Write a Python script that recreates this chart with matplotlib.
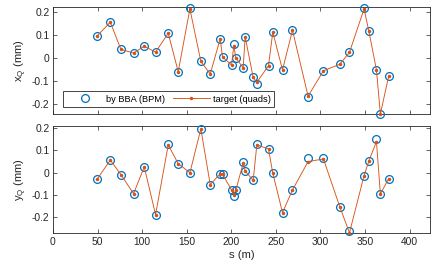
import numpy as np
import matplotlib
matplotlib.use("Agg")
import matplotlib.pyplot as plt

# quad positions along the ring (m)
s = [49.7, 64.3, 76.2, 90.4, 102.4, 115.1, 129.3, 140.5, 153.6, 165.9, 176.4,
     187.6, 190.2, 200.3, 202.9, 205.2, 213.4, 215.6, 224.6, 228.7, 241.8,
     246.6, 257.5, 268.7, 286.2, 303.4, 321.7, 332.6, 349.0, 354.3, 362.9,
     367.3, 376.7]

# horizontal offsets (mm)
xq_bba = [0.098, 0.157, 0.039, 0.023, 0.053, 0.027, 0.109, -0.061, 0.217, -0.013,
          -0.068, 0.085, 0.006, -0.029, 0.062, 0.001, -0.041, 0.094, -0.083,
          -0.110, -0.032, 0.114, -0.050, 0.122, -0.167, -0.054, -0.026, 0.026,
          0.217, 0.120, -0.050, -0.240, -0.076]
xq_target = [0.098, 0.157, 0.039, 0.023, 0.053, 0.027, 0.109, -0.058, 0.215, -0.013,
             -0.068, 0.085, 0.006, -0.029, 0.055, 0.001, -0.041, 0.094, -0.083,
             -0.104, -0.032, 0.114, -0.050, 0.122, -0.164, -0.054, -0.026, 0.026,
             0.215, 0.120, -0.050, -0.242, -0.076]

# vertical offsets (mm)
yq_bba = [-0.028, 0.057, -0.008, -0.094, 0.026, -0.188, 0.129, 0.041, 0.000, 0.197,
          -0.053, -0.005, -0.007, -0.077, -0.103, -0.077, 0.050, 0.008, -0.034,
          0.129, 0.107, -0.002, -0.179, -0.077, 0.065, 0.068, -0.152, -0.263,
          -0.013, 0.052, 0.152, -0.095, -0.026]
yq_target = [-0.028, 0.057, -0.008, -0.094, 0.026, -0.188, 0.125, 0.041, 0.000, 0.197,
             -0.053, -0.005, -0.007, -0.077, -0.098, -0.077, 0.043, 0.008, -0.034,
             0.125, 0.107, -0.002, -0.179, -0.077, 0.050, 0.062, -0.152, -0.270,
             -0.013, 0.052, 0.140, -0.095, -0.026]

blue = "#0072BD"
orange = "#D95319"
axcol = "#262626"
fs_tick = 7.4
fs_label = 8.1
fs_leg = 6.7

plt.rcParams["font.family"] = ["Liberation Sans", "DejaVu Sans"]
plt.rcParams["font.size"] = fs_tick

fig = plt.figure(figsize=(4.43, 2.66), dpi=100)
ax1 = fig.add_axes([0.1196, 0.5714, 0.8511, 0.4012])
ax2 = fig.add_axes([0.1196, 0.1230, 0.8511, 0.4033])


def style(ax, ylim):
    ax.set_xlim(0, 423)
    ax.set_ylim(*ylim)
    ax.set_xticks(np.arange(0, 401, 50))
    ax.set_yticks([-0.2, -0.1, 0, 0.1, 0.2])
    ax.set_yticklabels(["-0.2", "-0.1", "0", "0.1", "0.2"])
    ax.tick_params(direction="in", top=True, right=True, length=3, width=0.5,
                   colors=axcol, labelsize=fs_tick, pad=2.5)
    for sp in ax.spines.values():
        sp.set_color(axcol)
        sp.set_linewidth(0.6)


h1, = ax1.plot(s, xq_bba, "o", ms=5.6, mfc="none", mec=blue, mew=0.9,
               label="by BBA (BPM)", clip_on=False, zorder=3)
h2, = ax1.plot(s, xq_target, "-", color=orange, lw=0.65, marker=".", ms=3,
               label="target (quads)", clip_on=False, zorder=4)
style(ax1, (-0.242, 0.222))
ax1.set_xticklabels([])
ax1.set_ylabel(r"x$_\mathregular{Q}$ (mm)", color=axcol, fontsize=fs_label,
               labelpad=2)
leg = ax1.legend(handles=[h1, h2], ncol=2, loc="lower left",
                 bbox_to_anchor=(0.0265, 0.066), borderaxespad=0,
                 fancybox=False, framealpha=1, edgecolor=axcol,
                 handlelength=4.0, columnspacing=0.8, handletextpad=0.3,
                 borderpad=0.35, fontsize=fs_leg)
leg.get_frame().set_linewidth(0.6)
leg.set_zorder(5)

ax2.plot(s, yq_bba, "o", ms=5.6, mfc="none", mec=blue, mew=0.9,
         clip_on=False, zorder=3)
ax2.plot(s, yq_target, "-", color=orange, lw=0.65, marker=".", ms=3,
         clip_on=False, zorder=4)
style(ax2, (-0.272, 0.21))
ax2.set_ylabel(r"y$_\mathregular{Q}$ (mm)", color=axcol, fontsize=fs_label,
               labelpad=2)
ax2.set_xlabel("s (m)", color=axcol, fontsize=fs_label, labelpad=2)

fig.savefig("out.png", dpi=100)
